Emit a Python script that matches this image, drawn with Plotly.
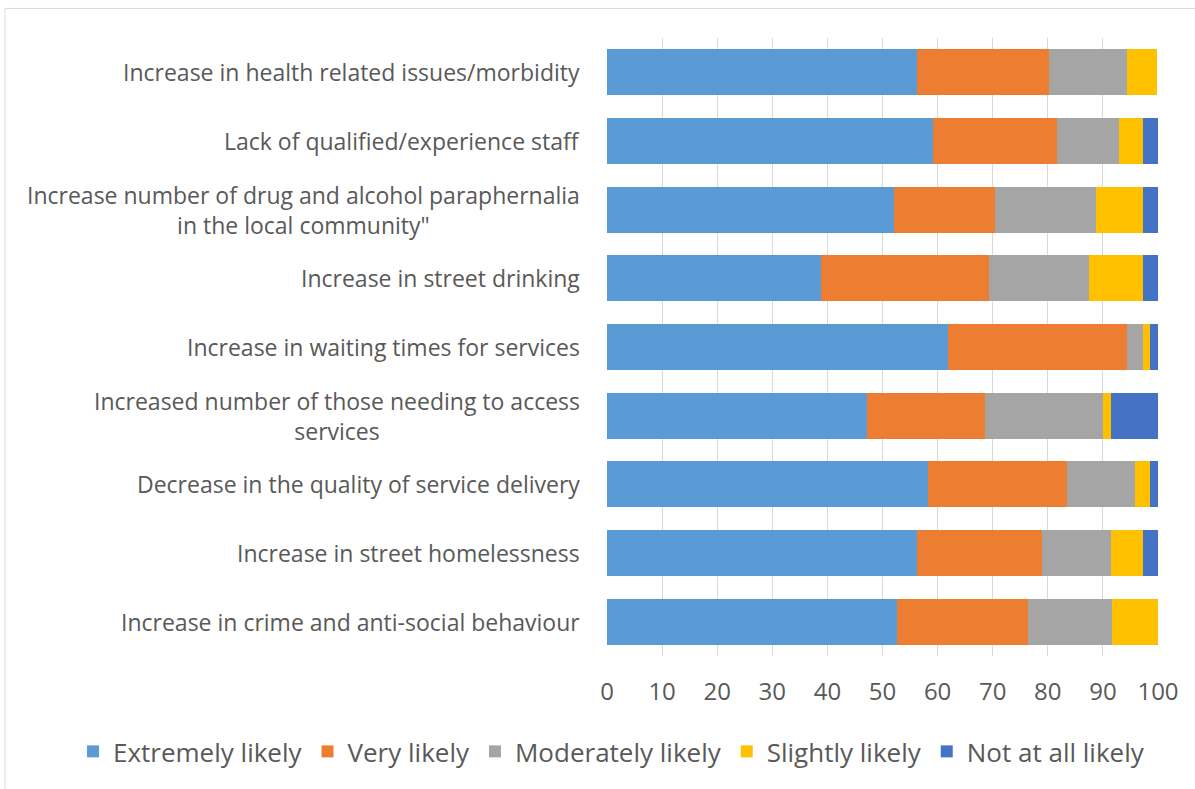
import plotly.graph_objects as go

categories = [
    "Increase in health related issues/morbidity",
    "Lack of qualified/experience staff",
    "Increase number of drug and alcohol paraphernalia<br>in the local community\"",
    "Increase in street drinking",
    "Increase in waiting times for services",
    "Increased number of those needing to access<br>services",
    "Decrease in the quality of service delivery",
    "Increase in street homelessness",
    "Increase in crime and anti-social behaviour",
]

extremely_likely = [56.3, 59.2, 52.1, 38.9, 61.9, 47.1, 58.3, 56.3, 52.7]
very_likely = [23.9, 22.5, 18.3, 30.5, 32.5, 21.5, 25.1, 22.6, 23.7]
moderately_likely = [14.1, 11.3, 18.4, 18.1, 2.9, 21.4, 12.4, 12.6, 15.3]
slightly_likely = [5.6, 4.2, 8.5, 9.8, 1.3, 1.5, 2.8, 5.8, 8.3]
not_at_all_likely = [0.0, 2.8, 2.7, 2.7, 1.4, 8.5, 1.4, 2.7, 0.0]

series_names = ["Extremely likely", "Very likely", "Moderately likely",
                "Slightly likely", "Not at all likely"]
series_values = [extremely_likely, very_likely, moderately_likely,
                 slightly_likely, not_at_all_likely]
colors = ["#5B9BD5", "#ED7D31", "#A5A5A5", "#FFC000", "#4472C4"]

x_ticks = [0, 10, 20, 30, 40, 50, 60, 70, 80, 90, 100]

FONT = "Open Sans, sans-serif"
TEXT = "#595959"

W, H = 1195, 789
L, R, T, B = 607, 37, 37.6, 132.6
pw, ph = W - L - R, H - T - B

fig = go.Figure()
for name, vals, col in zip(series_names, series_values, colors):
    fig.add_trace(go.Bar(
        y=categories, x=vals, name=name, orientation="h",
        marker=dict(color=col, line=dict(width=0)),
    ))

annotations = []
for c in categories:
    annotations.append(dict(
        x=-25 / pw, xref="paper", y=c, yref="y", text=c, showarrow=False,
        xanchor="right", yanchor="middle", align="center",
        font=dict(family=FONT, size=23, color=TEXT),
    ))

def px_x(p):
    return (p - L) / pw

def px_y(p):
    return (H - B - p) / ph

fig.update_layout(
    width=W, height=H,
    margin=dict(l=L, r=R, t=T, b=B, pad=0, autoexpand=False),
    barmode="stack", bargap=0.33,
    plot_bgcolor="white", paper_bgcolor="white",
    font=dict(family=FONT, color=TEXT),
    xaxis=dict(range=[0, 100], tickvals=x_ticks, showgrid=True,
               gridcolor="#D9D9D9", gridwidth=1, zeroline=False,
               showline=False, ticks="", ticklen=0, ticklabelstandoff=19,
               tickfont=dict(family=FONT, size=24, color=TEXT)),
    yaxis=dict(categoryorder="array", categoryarray=categories,
               autorange="reversed", showticklabels=False, showgrid=False,
               zeroline=False, showline=False, ticks=""),
    legend=dict(orientation="h", x=px_x(73), xanchor="left",
                y=px_y(752), yanchor="middle", bgcolor="rgba(0,0,0,0)",
                font=dict(family=FONT, size=26, color=TEXT),
                itemclick=False, traceorder="normal", itemwidth=30),
    annotations=annotations,
    shapes=[dict(type="rect", xref="paper", yref="paper",
                 x0=px_x(5), x1=px_x(1205), y0=px_y(800), y1=px_y(8),
                 line=dict(color="#D9D9D9", width=1), layer="below")],
    showlegend=True,
)

fig.write_html("out.html", config={"displayModeBar": False},
               post_script="document.body.style.margin='0';")
